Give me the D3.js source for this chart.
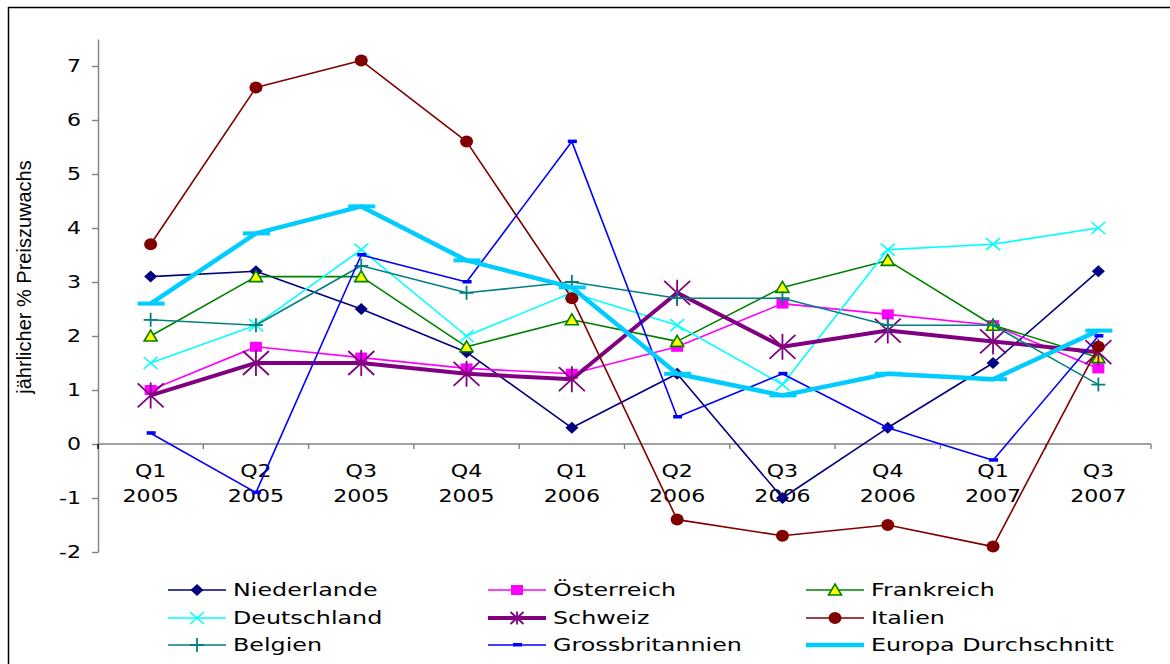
<!DOCTYPE html>
<html>
<head>
<meta charset="utf-8">
<script src="https://cdn.jsdelivr.net/npm/d3@7"></script>
<style>
    body { margin: 0; background: #fff; }
    svg { display: block; }
</style>
</head>
<body>
<div id="chart"></div>
<script>
// categories (quarter, year)
const quarters = ['Q1','Q2','Q3','Q4','Q1','Q2','Q3','Q4','Q1','Q3'];
const years = ['2005','2005','2005','2005','2006','2006','2006','2006','2007','2007'];
const categories = quarters.map((q,i) => q + ' ' + years[i]);

// series values, annual % price growth
const niederlande = [3.1, 3.2, 2.5, 1.7, 0.3, 1.3, -1.0, 0.3, 1.5, 3.2];
const oesterreich = [1.0, 1.8, 1.6, 1.4, 1.3, 1.8, 2.6, 2.4, 2.2, 1.4];
const frankreich = [2.0, 3.1, 3.1, 1.8, 2.3, 1.9, 2.9, 3.4, 2.2, 1.6];
const deutschland = [1.5, 2.2, 3.6, 2.0, 2.8, 2.2, 1.1, 3.6, 3.7, 4.0];
const schweiz = [0.9, 1.5, 1.5, 1.3, 1.2, 2.8, 1.8, 2.1, 1.9, 1.7];
const italien = [3.7, 6.6, 7.1, 5.6, 2.7, -1.4, -1.7, -1.5, -1.9, 1.8];
const belgien = [2.3, 2.2, 3.3, 2.8, 3.0, 2.7, 2.7, 2.2, 2.2, 1.1];
const grossbritannien = [0.2, -0.9, 3.5, 3.0, 5.6, 0.5, 1.3, 0.3, -0.3, 2.0];
const europa = [2.6, 3.9, 4.4, 3.4, 2.9, 1.3, 0.9, 1.3, 1.2, 2.1];

const yTicks = [-2,-1,0,1,2,3,4,5,6,7];

const series = [
    {name:'Niederlande', values:niederlande, color:'#000080', width:1.6, marker:'diamond'},
    {name:'Österreich', values:oesterreich, color:'#FF00FF', width:1.6, marker:'square'},
    {name:'Frankreich', values:frankreich, color:'#008000', width:1.6, marker:'triangle'},
    {name:'Deutschland', values:deutschland, color:'#00FFFF', width:1.6, marker:'cross'},
    {name:'Schweiz', values:schweiz, color:'#800080', width:4, marker:'star'},
    {name:'Italien', values:italien, color:'#800000', width:1.6, marker:'circle'},
    {name:'Belgien', values:belgien, color:'#008080', width:1.6, marker:'plus'},
    {name:'Grossbritannien', values:grossbritannien, color:'#0000FF', width:1.6, marker:'dash'},
    {name:'Europa Durchschnitt', values:europa, color:'#00CCFF', width:4.5, marker:'bar'}
];

const W = 1170, H = 664;
const font = 'DejaVu Sans, Verdana, sans-serif';
const sx = 1.3; // wide letterforms of the original

const svg = d3.select('#chart').append('svg')
    .attr('width', W)
    .attr('height', H);

// outer frame
svg.append('rect')
    .attr('x', 8.5).attr('y', 7.5)
    .attr('width', 1200).attr('height', 700)
    .attr('fill', 'none')
    .attr('stroke', '#000')
    .attr('stroke-width', 1.5);

const x = d3.scaleBand()
    .domain(categories)
    .range([98, 1151]);

const y = d3.scaleLinear()
    .domain([-2, 7.5])
    .range([552, 39]);

// y axis
const yAxis = svg.append('g')
    .attr('transform', 'translate(98,0)')
    .call(d3.axisLeft(y).tickValues(yTicks).tickSize(6).tickSizeOuter(0).tickFormat(d3.format('d')));
yAxis.select('.domain').attr('stroke', '#808080').attr('stroke-width', 1.4);
yAxis.selectAll('.tick line').attr('stroke', '#808080').attr('stroke-width', 1.4);
yAxis.selectAll('.tick text')
    .attr('x', -17 / sx)
    .attr('transform', `scale(${sx},1)`)
    .attr('font-family', font)
    .attr('font-size', 17)
    .attr('fill', '#000')
    .text(d => d < 0 ? '-' + Math.abs(d) : d);

// x axis along zero
const xAxis = svg.append('g');
xAxis.append('line')
    .attr('x1', x.range()[0]).attr('x2', x.range()[1])
    .attr('y1', y(0)).attr('y2', y(0))
    .attr('stroke', '#808080').attr('stroke-width', 1.4);
xAxis.selectAll('.xtick')
    .data(d3.range(categories.length + 1))
    .join('line')
    .attr('class', 'xtick')
    .attr('x1', i => x.range()[0] + i * x.step())
    .attr('x2', i => x.range()[0] + i * x.step())
    .attr('y1', y(0)).attr('y2', y(0) + 5)
    .attr('stroke', i => i === 0 ? '#000' : '#808080')
    .attr('stroke-width', 1.4);

const xLabels = xAxis.selectAll('.xlabel')
    .data(categories)
    .join('g')
    .attr('class', 'xlabel')
    .attr('transform', d => `translate(${x(d) + x.bandwidth()/2},0) scale(${sx},1)`);
xLabels.append('text')
    .attr('y', 477)
    .attr('text-anchor', 'middle')
    .attr('font-family', font)
    .attr('font-size', 17)
    .text((d,i) => quarters[i]);
xLabels.append('text')
    .attr('y', 502)
    .attr('text-anchor', 'middle')
    .attr('font-family', font)
    .attr('font-size', 17)
    .text((d,i) => years[i]);

// y axis title
svg.append('text')
    .attr('transform', 'translate(31,277) rotate(-90)')
    .attr('text-anchor', 'middle')
    .attr('font-family', 'Liberation Sans, Arial, sans-serif')
    .attr('font-size', 20)
    .text('jährlicher % Preiszuwachs');

// marker painter, k shrinks the marker (legend)
function drawMarker(g, s, k) {
    const c = s.color;
    k = k || 1;
    switch (s.marker) {
        case 'diamond':
            g.append('path').attr('d', 'M0,-6L6.5,0L0,6L-6.5,0Z').attr('fill', c);
            break;
        case 'square':
            g.append('rect').attr('x', -6).attr('y', -5).attr('width', 12).attr('height', 10).attr('fill', c);
            break;
        case 'triangle':
            g.append('path').attr('d', 'M0,-6L6.5,5L-6.5,5Z')
                .attr('fill', '#FFFF00').attr('stroke', c).attr('stroke-width', 1.6);
            break;
        case 'cross':
            g.append('path').attr('d', 'M-7,-6L7,6M-7,6L7,-6')
                .attr('stroke', c).attr('stroke-width', 1.6).attr('fill', 'none');
            break;
        case 'star':
            g.append('path').attr('d', `M${-13*k},${-12*k}L${13*k},${12*k}M${-13*k},${12*k}L${13*k},${-12*k}M0,${-13*k}L0,${13*k}`)
                .attr('stroke', c).attr('stroke-width', 1.8).attr('fill', 'none');
            break;
        case 'circle':
            g.append('ellipse').attr('rx', 6.5).attr('ry', 6).attr('fill', c);
            break;
        case 'plus':
            g.append('path').attr('d', 'M-7,0L7,0M0,-7L0,7')
                .attr('stroke', c).attr('stroke-width', 1.8).attr('fill', 'none');
            break;
        case 'dash':
            g.append('rect').attr('x', -4).attr('y', -2).attr('width', 9).attr('height', 3.5).attr('fill', c);
            break;
        case 'bar':
            g.append('rect').attr('x', -13*k).attr('y', -2).attr('width', 27*k).attr('height', 4).attr('fill', c);
            break;
    }
}

const line = d3.line()
    .x((d,i) => x(categories[i]) + x.bandwidth()/2)
    .y(d => y(d));

// series lines and markers
const plot = svg.append('g').attr('class', 'plot');
series.forEach(s => {
    const sg = plot.append('g');
    sg.append('path')
        .datum(s.values)
        .attr('d', line)
        .attr('fill', 'none')
        .attr('stroke', s.color)
        .attr('stroke-width', s.width)
        .attr('stroke-linejoin', 'round');
    sg.selectAll('.marker')
        .data(s.values)
        .join('g')
        .attr('class', 'marker')
        .attr('transform', (d,i) => `translate(${x(categories[i]) + x.bandwidth()/2},${y(d)})`)
        .each(function() { drawMarker(d3.select(this), s); });
});

// legend, three columns
const legendCols = [168, 488, 806];
const legendRows = [590, 618, 645];
const legend = svg.append('g').attr('class', 'legend');
series.forEach((s,i) => {
    const lx = legendCols[i % 3];
    const ly = legendRows[Math.floor(i / 3)];
    const item = legend.append('g').attr('transform', `translate(${lx},${ly})`);
    item.append('line')
        .attr('x1', 0).attr('x2', 58)
        .attr('stroke', s.color)
        .attr('stroke-width', s.width);
    drawMarker(item.append('g').attr('transform', 'translate(29,0)'), s, 0.5);
    item.append('g')
        .attr('transform', `translate(65,0) scale(1.4,1)`)
        .append('text')
        .attr('y', 6)
        .attr('font-family', font)
        .attr('font-size', 17)
        .text(s.name);
});
</script>
</body>
</html>
